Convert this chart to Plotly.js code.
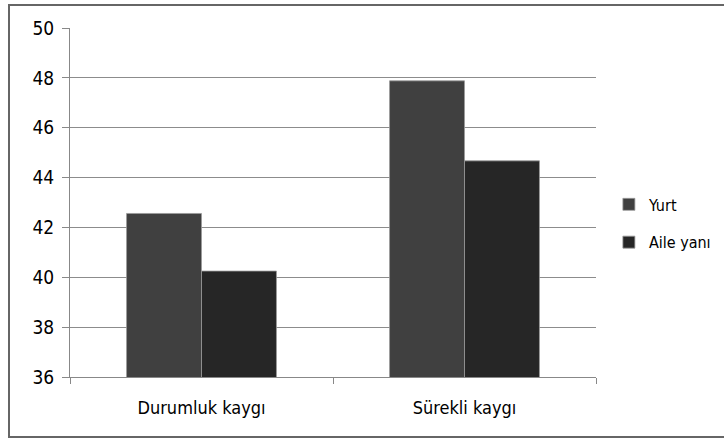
<!DOCTYPE html>
<html>
<head>
<meta charset="utf-8">
<script src="https://cdn.plot.ly/plotly-3.0.1.min.js"></script>
<style>
html,body{margin:0;padding:0;background:#fff;}
#wrap{position:relative;width:724px;height:441px;overflow:hidden;}
#frame{position:absolute;left:8px;top:4px;width:730px;height:434px;border:2px solid #666;box-sizing:border-box;pointer-events:none;}
#chart{position:absolute;left:0;top:0;width:724px;height:441px;}
</style>
</head>
<body>
<div id="wrap"><div id="chart"></div><div id="frame"></div></div>
<script>
var categories = ["Durumluk kaygı", "Sürekli kaygı"];
var yurtValues = [42.56, 47.88];
var aileValues = [40.25, 44.67];
var seriesNames = ["Yurt", "Aile yanı"];
var yTicks = [36, 38, 40, 42, 44, 46, 48, 50];

var FONT = "'DejaVu Sans Condensed', 'Liberation Sans', sans-serif";

var traces = [
  {type: "bar", name: seriesNames[0], x: categories, y: yurtValues,
   marker: {color: "#404040", line: {color: "#9a9a9a", width: 0.8}}, legendgroup: "a"},
  {type: "bar", name: seriesNames[1], x: categories, y: aileValues,
   marker: {color: "#262626", line: {color: "#9a9a9a", width: 0.8}}, legendgroup: "b"}
];

var layout = {
  width: 724, height: 441,
  margin: {l: 70, r: 128, t: 28, b: 64, autoexpand: false},
  paper_bgcolor: "#ffffff", plot_bgcolor: "#ffffff",
  barmode: "group", bargap: 0.43, bargroupgap: 0,
  font: {family: FONT, size: 18, color: "#000"},
  xaxis: {
    type: "category", showgrid: false, showline: true, linecolor: "#888", linewidth: 1,
    ticks: "outside", tickson: "boundaries", ticklen: 6, tickcolor: "#888",
    ticklabelstandoff: 14, tickfont: {family: FONT, size: 18, color: "#000"}
  },
  yaxis: {
    range: [36, 50], tickvals: yTicks, showgrid: true, gridcolor: "#8c8c8c", gridwidth: 1,
    showline: true, linecolor: "#888", linewidth: 1, zeroline: false,
    ticks: "outside", ticklen: 7, tickcolor: "#888", ticklabelstandoff: 4,
    tickfont: {family: FONT, size: 19, color: "#000"}
  },
  legend: {x: 1.0245, xref: "paper", y: 0.44, xanchor: "left", yanchor: "middle",
    font: {family: FONT, size: 16, color: "#000"}, tracegroupgap: 14,
    bgcolor: "rgba(0,0,0,0)", itemwidth: 30},
  showlegend: true
};

Plotly.newPlot("chart", traces, layout, {displayModeBar: false, staticPlot: true});
</script>
</body>
</html>
